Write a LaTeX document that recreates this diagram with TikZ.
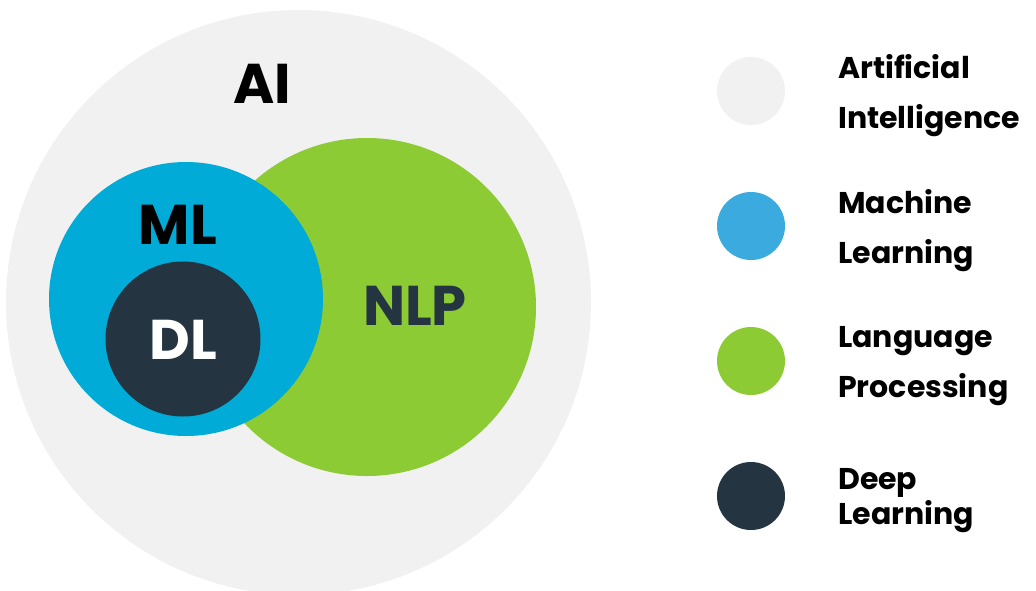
\documentclass[tikz,border=0pt]{standalone}
\usepackage{fontspec}
\setmainfont{Poppins}
\usetikzlibrary{positioning}
\definecolor{aigray}{HTML}{F1F1F1}
\definecolor{mlblue}{HTML}{00ACD7}
\definecolor{keyblue}{HTML}{3AAADF}
\definecolor{nlpgreen}{HTML}{8DCB35}
\definecolor{dldark}{HTML}{243441}
\tikzset{
	disc/.style={circle, inner sep=0pt, outer sep=0pt},
	big/.style={font=\fontsize{56}{56}\selectfont\bfseries},
	key/.style={disc, minimum size=68pt},
	keytext/.style={font=\fontsize{30}{50}\selectfont\bfseries, align=left, inner sep=0pt, yshift=-5pt}
}

\begin{document}
\begin{tikzpicture}[x=1pt, y=-1pt, node distance=67pt and 53pt]
	\useasboundingbox (0,0) rectangle (1036,590);
	% Venn circles
	\node (ai) [disc, fill=aigray, minimum size=585pt] at (298.5,302.5) {};
	\node (nlp) [disc, fill=nlpgreen, minimum size=338pt] at (367,307) {};
	\node (ml) [disc, fill=mlblue, minimum size=274pt] at (186,299) {};
	\node (dl) [disc, fill=dldark, minimum size=155pt] at (183,339) {};
	
	% Labels
	\node (ailabel) [big] at (262,84) {AI};
	\node (mllabel) [big] at (178,225) {ML};
	\node (dllabel) [big, text=white] at (183,340) {DL};
	\node (nlplabel) [big, text=dldark] at (415,306) {NLP};
	
	% Legend
	\node (kai) [key, fill=aigray] at (751,91) {};
	\node (kml) [key, fill=keyblue, below = of kai] {};
	\node (knlp) [key, fill=nlpgreen, below = of kml] {};
	\node (kdl) [key, fill=dldark, below = of knlp] {};
	
	\node (tai) [keytext, right = of kai] {Artificial\\Intelligence};
	\node (tml) [keytext, right = of kml] {Machine\\Learning};
	\node (tnlp) [keytext, right = of knlp] {Language\\Processing};
	\node (tdl) [keytext, right = of kdl] {Deep\\[-15pt]Learning};
	
\end{tikzpicture}
\end{document}
